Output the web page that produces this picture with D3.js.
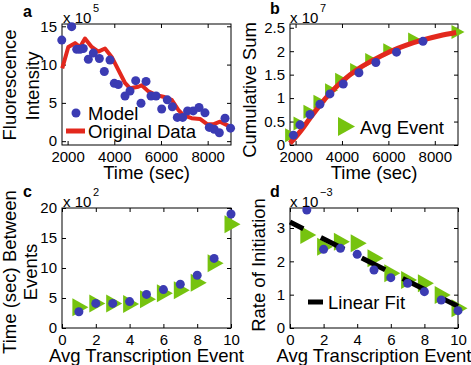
<!DOCTYPE html>
<html><head><meta charset="utf-8">
<script src="https://cdn.jsdelivr.net/npm/d3@7"></script>
<style>
html,body{margin:0;padding:0;background:#fff;}
svg{display:block;font-family:"Liberation Sans",Arial,Helvetica,sans-serif;}
</style></head>
<body><svg id="c" width="471" height="365"></svg>
<script>
// ---------- data ----------
const aOrigT = [1770, 2030, 2317, 2531, 2745, 3032, 3316, 3602, 3888, 4460, 4673, 5030, 5175, 5460, 5820, 6100, 6460, 6740, 6960, 7310, 7670, 7960, 8240, 8530, 8955];
const aOrigV = [9.5, 12.3, 12.8, 12.3, 13.4, 12.3, 11.7, 12.1, 11.0, 7.6, 6.9, 7.1, 7.3, 6.5, 6.0, 5.8, 5.4, 4.1, 3.4, 3.0, 2.9, 2.25, 2.2, 2.55, 1.9];
const aModelT = [1750, 2175, 2390, 2531, 2673, 2888, 3102, 3360, 3573, 3816, 4000, 4172, 4460, 4673, 4917, 5145, 5360, 5573, 5790, 6030, 6270, 6487, 6700, 6930, 7140, 7380, 7630, 7885, 8070, 8280, 8500, 8745, 8980];
const aModelV = [13.2, 14.95, 12.0, 12.0, 12.1, 10.7, 11.5, 10.8, 9.1, 10.6, 7.55, 7.4, 5.9, 6.55, 7.9, 4.95, 7.8, 5.9, 5.9, 4.2, 5.4, 4.5, 3.1, 3.1, 3.95, 3.95, 4.4, 3.7, 1.8, 1.55, 1.1, 2.99, 1.7];

const bSumT = [1760, 2190, 2620, 3050, 3480, 4055, 4630, 5345, 6060, 6775, 7490, 8205, 8920];
const bSumV = [0.036, 0.28, 0.57, 0.85, 1.10, 1.38, 1.60, 1.81, 1.99, 2.13, 2.24, 2.33, 2.40];
const bModelT = [1905, 2190, 2620, 3050, 3480, 4055, 4730, 5460, 6350, 7490];
const bModelV = [0.21, 0.43, 0.65, 0.87, 1.09, 1.30, 1.54, 1.76, 1.98, 2.21];
const bEventT = [1830, 2190, 2620, 3050, 3550, 3985, 4630, 5280, 6060, 7130, 9000];
const bEventV = [0.21, 0.46, 0.71, 0.92, 1.17, 1.39, 1.60, 1.81, 2.02, 2.25, 2.41];

const events = [1, 2, 3, 4, 5, 6, 7, 8, 9, 10];
const cModel = [2.7, 4.1, 4.1, 4.4, 5.6, 6.4, 7.3, 8.8, 11.6, 19.0];
const cAvg = [3.45, 4.1, 4.1, 4.0, 4.8, 5.8, 6.3, 7.55, 10.8, 17.3];

const dModel = [3.54, 2.36, 2.39, 2.21, 1.74, 1.51, 1.34, 1.09, 0.84, 0.52];
const dAvg = [2.79, 2.44, 2.59, 2.54, 2.09, 1.64, 1.44, 1.34, 0.99, 0.59];
const fitX = [0, 10];
const fitY = [3.18, 0.65];

const timeTicks = [2000, 4000, 6000, 8000];
const eventTicks = [0, 2, 4, 6, 8, 10];
const aYTicks = [0, 5, 10, 15];
const bYTicks = [0, 0.5, 1, 1.5, 2, 2.5];
const cYTicks = [0, 5, 10, 15, 20];
const dYTicks = [0, 1, 2, 3];

// ---------- style ----------
const BLUE = "#3b3bb3", RED = "#e3281d", GREEN = "#76c30f";
const TICKFS = 15, LABFS = 18.5;
const svg = d3.select("#c");

function panel(box, xd, yd, xt, yt) {
  const x = d3.scaleLinear().domain(xd).range([box.l, box.r]);
  const y = d3.scaleLinear().domain(yd).range([box.b, box.t]);
  const g = svg.append("g");
  const fmt = d => String(d);
  g.append("g").attr("transform", `translate(0,${box.b})`)
    .call(d3.axisBottom(x).tickValues(xt).tickSizeInner(-4).tickSizeOuter(0).tickPadding(6).tickFormat(fmt));
  g.append("g").attr("transform", `translate(${box.l},0)`)
    .call(d3.axisLeft(y).tickValues(yt).tickSizeInner(-4).tickSizeOuter(0).tickPadding(5).tickFormat(fmt));
  g.append("g").attr("transform", `translate(0,${box.t})`)
    .call(d3.axisTop(x).tickValues(xt).tickSizeInner(-4).tickSizeOuter(0).tickFormat(""));
  g.append("g").attr("transform", `translate(${box.r},0)`)
    .call(d3.axisRight(y).tickValues(yt).tickSizeInner(-4).tickSizeOuter(0).tickFormat(""));
  g.selectAll(".domain").remove();
  g.selectAll(".tick line").attr("stroke", "#000");
  g.selectAll(".tick text").attr("font-size", TICKFS).attr("fill", "#000")
    .attr("font-family", "Liberation Sans, Arial, sans-serif");
  g.append("rect").attr("x", box.l).attr("y", box.t)
    .attr("width", box.r - box.l).attr("height", box.b - box.t)
    .attr("fill", "none").attr("stroke", "#000").attr("stroke-width", 1);
  return { x, y };
}

function dots(sc, xs, ys, r) {
  svg.append("g").selectAll("circle").data(xs).join("circle")
    .attr("cx", (d) => sc.x(d)).attr("cy", (d, i) => sc.y(ys[i]))
    .attr("r", r).attr("fill", BLUE);
}
function tris(sc, xs, ys, w, h, dx) {
  svg.append("g").selectAll("path").data(xs).join("path")
    .attr("d", (d, i) => {
      const cx = sc.x(d) + dx, cy = sc.y(ys[i]);
      return `M${cx - w / 2},${cy - h / 2}L${cx + w / 2},${cy}L${cx - w / 2},${cy + h / 2}Z`;
    })
    .attr("fill", GREEN);
}
function text(x, y, s, fs, opts = {}) {
  const t = svg.append("text").attr("x", x).attr("y", y).attr("font-size", fs)
    .attr("fill", "#000").text(s);
  if (opts.anchor) t.attr("text-anchor", opts.anchor);
  if (opts.bold) t.attr("font-weight", "bold");
  if (opts.rot) t.attr("transform", `rotate(-90,${x},${y})`);
  if (opts.mid) t.attr("dominant-baseline", "central");
  return t;
}
function expo(x, y, e) {
  text(x, y, "x 10", 15);
  text(x + 30, y - 11, e, 11);
}

// ---------- panel a ----------
const A = panel({ l: 62, r: 231, t: 24, b: 145 }, [1760, 9000], [-0.5, 15.3], timeTicks, aYTicks);
svg.append("path").datum(aOrigT)
  .attr("d", d3.line().x(d => A.x(d)).y((d, i) => A.y(aOrigV[i])))
  .attr("fill", "none").attr("stroke", RED).attr("stroke-width", 4).attr("stroke-linejoin", "round");
dots(A, aModelT, aModelV, 4.5);
svg.append("circle").attr("cx", 76).attr("cy", 113).attr("r", 4.5).attr("fill", BLUE);
text(88, 113, "Model", LABFS, { mid: true });
svg.append("line").attr("x1", 66).attr("x2", 85).attr("y1", 131).attr("y2", 131)
  .attr("stroke", RED).attr("stroke-width", 5);
text(88, 131, "Original Data", LABFS, { mid: true });
text(23, 16.5, "a", 16, { bold: true });
expo(63, 23, "5");
text(9, 85, "Fluorescence", LABFS, { anchor: "middle", rot: true, mid: true });
text(32, 86, "Intensity", LABFS, { anchor: "middle", rot: true, mid: true });
text(146.5, 172, "Time (sec)", LABFS, { anchor: "middle", mid: true });

// ---------- panel b ----------
const B = panel({ l: 290, r: 458, t: 24, b: 145 }, [1760, 9000], [0, 2.58], timeTicks, bYTicks);
tris(B, bEventT, bEventV, 13, 14, 0);
svg.append("path").datum(bSumT)
  .attr("d", d3.line().curve(d3.curveMonotoneX).x(d => B.x(d)).y((d, i) => B.y(bSumV[i])))
  .attr("fill", "none").attr("stroke", RED).attr("stroke-width", 5);
dots(B, bModelT, bModelV, 4.5);
svg.append("path").attr("d", "M338,117L355,126.5L338,136Z").attr("fill", GREEN);
text(360, 127, "Avg Event", LABFS, { mid: true });
text(270, 14, "b", 16, { bold: true });
expo(290, 23, "7");
text(249, 90, "Cumulative Sum", LABFS, { anchor: "middle", rot: true, mid: true });
text(374, 172, "Time (sec)", LABFS, { anchor: "middle", mid: true });

// ---------- panel c ----------
const C = panel({ l: 62, r: 231, t: 208, b: 328 }, [0, 10], [0, 20], eventTicks, cYTicks);
tris(C, events, cAvg, 16, 18, 1.5);
dots(C, events, cModel, 4.5);
text(23, 197, "c", 16, { bold: true });
expo(63, 207, "2");
text(9, 272, "Time (sec) Between", LABFS, { anchor: "middle", rot: true, mid: true });
text(30, 272, "Events", LABFS, { anchor: "middle", rot: true, mid: true });
text(146.5, 355, "Avg Transcription Event", LABFS, { anchor: "middle", mid: true });

// ---------- panel d ----------
const D = panel({ l: 290, r: 458, t: 208, b: 328 }, [0, 10], [0, 3.6], eventTicks, dYTicks);
tris(D, events, dAvg, 16, 18, 1.5);
svg.append("path").datum(fitX)
  .attr("d", d3.line().x(d => D.x(d)).y((d, i) => D.y(fitY[i])))
  .attr("fill", "none").attr("stroke", "#000").attr("stroke-width", 5)
  .attr("stroke-dasharray", "26.2,19.6").attr("stroke-dashoffset", 11.3);
dots(D, events, dModel, 4.5);
svg.append("line").attr("x1", 308).attr("x2", 323).attr("y1", 302).attr("y2", 302)
  .attr("stroke", "#000").attr("stroke-width", 5);
text(328, 302, "Linear Fit", LABFS, { mid: true });
text(270, 197, "d", 16, { bold: true });
expo(290, 207, "\u22123");
text(258, 265, "Rate of Initiation", LABFS, { anchor: "middle", rot: true, mid: true });
text(374, 355, "Avg Transcription Event", LABFS, { anchor: "middle", mid: true });
</script></body></html>
